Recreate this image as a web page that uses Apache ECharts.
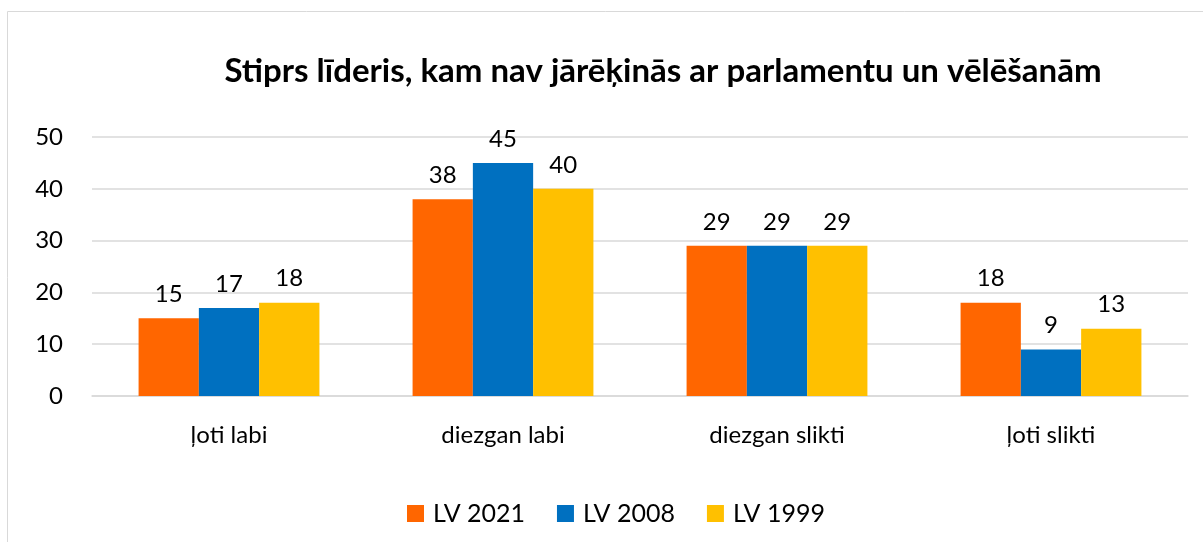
<!DOCTYPE html>
<html>
<head>
<meta charset="utf-8">
<script src="https://cdn.jsdelivr.net/npm/echarts@6/dist/echarts.min.js"></script>
<style>
html, body { margin: 0; padding: 0; background: #fff; }
#main { width: 1203px; height: 542px; }
</style>
</head>
<body>
<div id="main"></div>
<script>
// dati
var categories = ['ļoti labi', 'diezgan labi', 'diezgan slikti', 'ļoti slikti'];
var lv2021 = [15, 38, 29, 18];
var lv2008 = [17, 45, 29, 9];
var lv1999 = [18, 40, 29, 13];
var seriesNames = ['LV 2021', 'LV 2008', 'LV 1999'];
var colors = ['#ff6600', '#0070c0', '#ffc000'];

var font = 'Lato, "Noto Sans", sans-serif';
var myChart = echarts.init(document.getElementById('main'));

function bar(name, data, color) {
    return {
        name: name,
        type: 'bar',
        data: data,
        barGap: '0%',
        barCategoryGap: '34%',
        itemStyle: { color: color },
        label: {
            show: true,
            position: 'top',
            distance: 12,
            color: '#000',
            fontSize: 24,
            fontFamily: font
        }
    };
}

var option = {
    animation: false,
    color: colors,
    graphic: [{
        type: 'rect',
        shape: { x: 7.5, y: 11.5, width: 1400, height: 600 },
        style: { fill: 'none', stroke: '#d9d9d9', lineWidth: 1 }
    }],
    title: {
        text: 'Stiprs līderis, kam nav jārēķinās ar parlamentu un vēlēšanām',
        left: 658,
        textAlign: 'center',
        top: 50,
        textStyle: { fontSize: 33, fontWeight: 'bold', color: '#000', fontFamily: font }
    },
    legend: {
        data: seriesNames,
        left: 402,
        top: 496,
        itemWidth: 17,
        itemHeight: 17,
        itemGap: 32,
        icon: 'rect',
        textStyle: { fontSize: 25, color: '#000', fontFamily: font, padding: [0, 0, 0, 4] }
    },
    grid: { left: 92, right: 15, top: 137, bottom: 146 },
    xAxis: {
        type: 'category',
        data: categories,
        axisLine: { lineStyle: { color: '#d9d9d9', width: 1.5 } },
        axisTick: { show: false },
        axisLabel: { fontSize: 24, color: '#000', margin: 27, fontFamily: font }
    },
    yAxis: {
        type: 'value',
        min: 0,
        max: 50,
        interval: 10,
        axisLine: { show: false },
        axisTick: { show: false },
        splitLine: { lineStyle: { color: '#d9d9d9', width: 1.5 } },
        axisLabel: { fontSize: 24, color: '#000', margin: 29, fontFamily: font }
    },
    series: [
        bar(seriesNames[0], lv2021, colors[0]),
        bar(seriesNames[1], lv2008, colors[1]),
        bar(seriesNames[2], lv1999, colors[2])
    ]
};
myChart.setOption(option);
</script>
</body>
</html>
